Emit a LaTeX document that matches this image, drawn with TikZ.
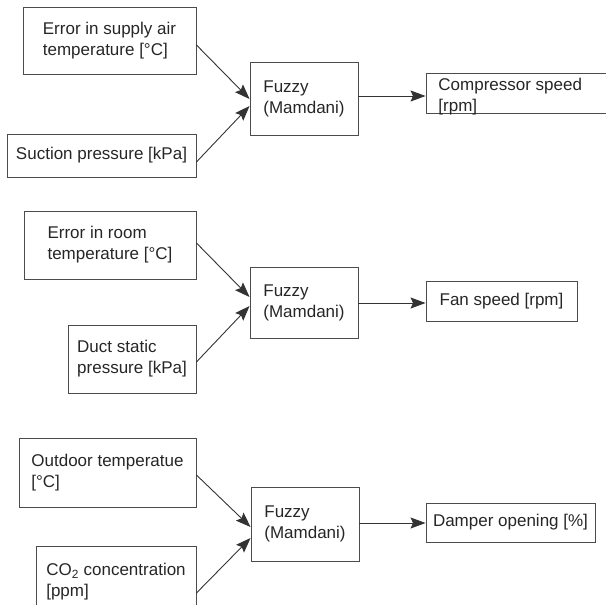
\documentclass[tikz,border=0pt]{standalone}
\usepackage{fontspec}
\setmainfont{Liberation Sans}
\usetikzlibrary{arrows.meta}
\begin{document}
\begin{tikzpicture}[x=1pt,y=-1pt,
	box/.style={draw=black!70,line width=0.9pt,inner sep=0pt,align=left,text=black!85,font=\fontsize{17}{21}\selectfont},
	arr/.style={draw=black!80,line width=0.9pt,-{Stealth[length=15pt,width=11pt,inset=2.5pt]}}]
	\useasboundingbox (0,0) rectangle (605,605);
	
	\node[box,minimum width=173,minimum height=67] (err1) at (109.5,40.5) {Error in supply air\\temperature [°C]};
	\node[box,minimum width=189,minimum height=43] (suc1) at (101.5,155.5) {Suction pressure [kPa]};
	\node[box,minimum width=108,minimum height=73] (fz1) at (304,98.5) {Fuzzy\\(Mamdani)};
	\node[box,minimum width=200,minimum height=40] (out1) at (526,93) {};
	\node[box,draw=none,anchor=west] (out1txt) at (438,97) {Compressor speed\\{}[rpm]};
	\draw[arr] ([yshift=-4.5]err1.east) -- ([yshift=-0.5]fz1.west);
	\draw[arr] ([yshift=-6.5]suc1.east) -- ([yshift=-7.5]fz1.west);
	\draw[arr] ([yshift=2.5]fz1.east) -- ([yshift=2.5]fz1.east -| out1.west);
	
	\node[box,minimum width=172,minimum height=68] (err2) at (110,245) {Error in room\\temperature [°C]};
	\node[box,minimum width=128,minimum height=68] (duct2) at (132,359) {Duct static\\pressure [kPa]};
	\node[box,minimum width=108,minimum height=71] (fz2) at (304,302.5) {Fuzzy\\(Mamdani)};
	\node[box,minimum width=151,minimum height=40] (out2) at (501.5,301) {Fan speed [rpm]};
	\draw[arr] ([yshift=2]err2.east) -- ([yshift=5.5]fz2.west);
	\draw[arr] ([yshift=-3]duct2.east) -- ([yshift=-3.5]fz2.west);
	\draw[arr] ([yshift=-0.5]fz2.east) -- ([yshift=-0.5]fz2.east -| out2.west);
	
	\node[box,minimum width=177,minimum height=69] (out3in) at (107.5,472.5) {Outdoor temperatue\\{}[°C]};
	\node[box,minimum width=160,minimum height=72] (co3) at (116,582) {CO\textsubscript{2} concentration\\{}[ppm]};
	\node[box,minimum width=108,minimum height=74] (fz3) at (305,524) {Fuzzy\\(Mamdani)};
	\node[box,minimum width=169,minimum height=39] (out3) at (510.5,522.5) {Damper opening [\%]};
	\draw[arr] ([yshift=-2.5]out3in.east) -- ([yshift=-3]fz3.west);
	\draw[arr] ([yshift=-11]co3.east) -- ([yshift=-14]fz3.west);
	\draw[arr] ([yshift=1]fz3.east) -- ([yshift=1]fz3.east -| out3.west);
\end{tikzpicture}
\end{document}
